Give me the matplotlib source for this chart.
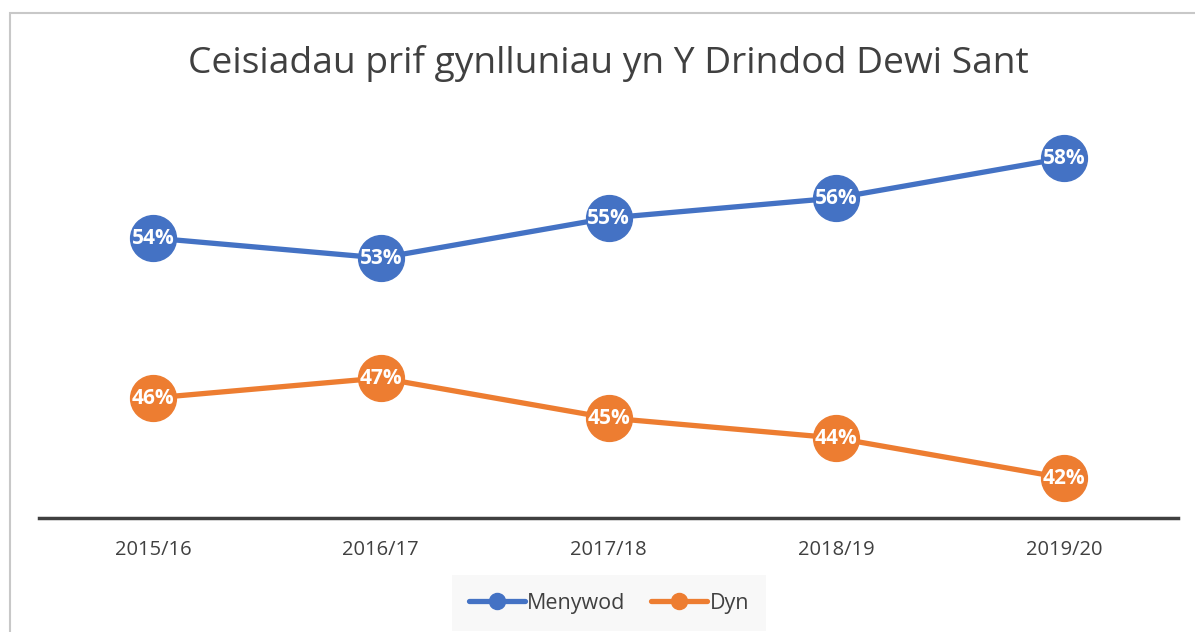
import matplotlib
matplotlib.use("Agg")
import matplotlib.pyplot as plt
from matplotlib.patches import Rectangle

categories = ["2015/16", "2016/17", "2017/18", "2018/19", "2019/20"]
menywod = [54, 53, 55, 56, 58]
dyn = [46, 47, 45, 44, 42]
series_names = ["Menywod", "Dyn"]
title = "Ceisiadau prif gynlluniau yn Y Drindod Dewi Sant"

plt.rcParams['font.family'] = ['Open Sans', 'DejaVu Sans']

fig = plt.figure(figsize=(11.95, 6.32), dpi=100)
# outer chart border (partially cropped)
fig.patches.append(Rectangle((10/1195, -0.1), 1.2, 1 - 13/632 + 0.1, transform=fig.transFigure,
                             fill=False, edgecolor='#c8c8c8', linewidth=1.5))

ax = fig.add_axes([39/1195, 1 - 518/632, (1178 - 39)/1195, 400/632])
x = list(range(len(categories)))
blue = '#4472C4'
orange = '#ED7D31'
ax.plot(x, menywod, color=blue, linewidth=3.8, marker='o', markersize=33, label=series_names[0],
        solid_capstyle='round', zorder=3)
ax.plot(x, dyn, color=orange, linewidth=3.8, marker='o', markersize=33, label=series_names[1],
        solid_capstyle='round', zorder=3)
for xs, vals in [(x, menywod), (x, dyn)]:
    for xi, v in zip(xs, vals):
        ax.text(xi, v, f"{v}%", ha='center', va='center', color='white', fontsize=15,
                fontweight='bold', zorder=4)

ax.set_xlim(-0.5, 4.5)
ax.set_ylim(40, 60)
ax.set_yticks([])
ax.set_xticks(x)
ax.set_xticklabels(categories, fontsize=14.5, color='#404040')
ax.tick_params(axis='x', length=0, pad=16)
for s in ['top', 'right', 'left']:
    ax.spines[s].set_visible(False)
ax.spines['bottom'].set_color('#404040')
ax.spines['bottom'].set_linewidth(2.5)
ax.patch.set_alpha(0)

fig.text(608/1195, 1 - 63/632, title, ha='center', va='center', fontsize=26.7, color='#404040')

leg = fig.legend(loc='center', bbox_to_anchor=(609/1195, 1 - 603/632), ncol=2, frameon=True,
                 fontsize=15.5, markerscale=0.35, handlelength=2.6, columnspacing=1.2,
                 handletextpad=0.1, borderpad=0.5)
leg.get_frame().set_facecolor('#f7f7f7')
leg.get_frame().set_edgecolor('none')
leg.get_frame().set_boxstyle('square')
for t in leg.get_texts():
    t.set_color('#404040')

fig.savefig("out.png", dpi=100)
